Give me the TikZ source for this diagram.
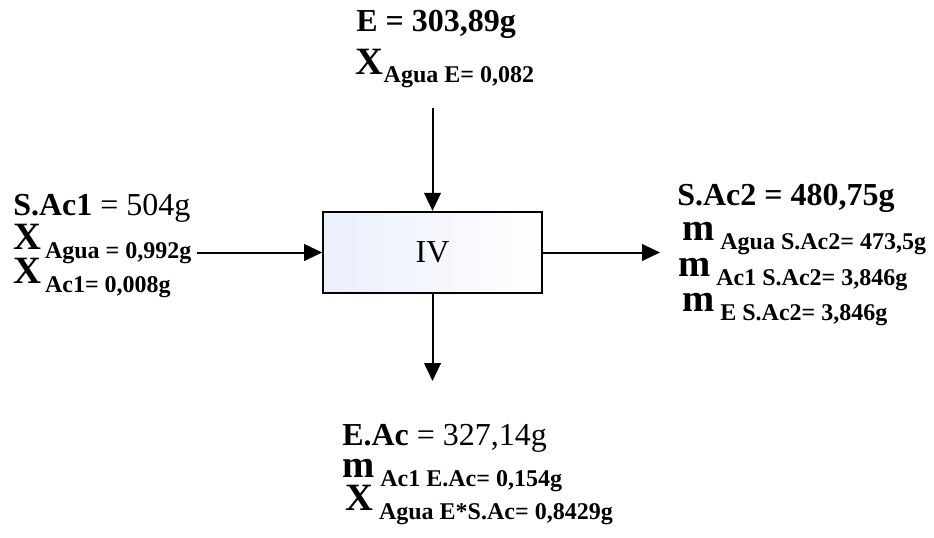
\documentclass[tikz,border=0pt]{standalone}
\usepackage{fontspec}
\setmainfont{Liberation Serif}
\usetikzlibrary{arrows.meta}

\definecolor{boxtint}{RGB}{234,239,251}

\begin{document}
\begin{tikzpicture}[x=0.75pt, y=-0.75pt,
    flow/.style={line width=1.5pt, -{Triangle[length=13.5pt, width=12.5pt]}},
    lbl/.style={anchor=base west, inner sep=0pt, font=\fontsize{24}{24}\selectfont},
    sym/.style={anchor=base west, inner sep=0pt, font=\fontsize{29}{29}\selectfont\bfseries},
    idx/.style={anchor=base west, inner sep=0pt, font=\fontsize{18}{18}\selectfont\bfseries}]
  \useasboundingbox (0,0) rectangle (934,538);

  % process unit
  \node[draw, line width=1.5pt, left color=boxtint, right color=white,
        minimum width=164pt, minimum height=61pt, inner sep=0pt,
        font=\fontsize{24}{24}\selectfont] (proc) at (432.5,252.5) {IV};

  % stream ends
  \coordinate (ein) at (432.5,108);
  \coordinate (sin) at (197,252.5);
  \coordinate (sout) at (660,252.5);
  \coordinate (eout) at (432.5,381);

  \draw[flow] (ein) -- (proc.north);
  \draw[flow] (sin) -- (proc.west);
  \draw[flow] (proc.east) -- (sout);
  \draw[flow] (proc.south) -- (eout);

  % feed E
  \node[lbl] (eTot) at (356,32) {\textbf{E = 303,89g}};
  \node[sym] (eAgua) at (355,75) {X};
  \node[idx] at ([yshift=-6pt]eAgua.base east) {Agua E= 0,082};

  % feed S.Ac1
  \node[lbl] (sTot) at (13,215) {\textbf{S.Ac1} = 504g};
  \node[sym] (sAgua) at (13,249) {X};
  \node[idx] at ([xshift=2.5pt, yshift=-7pt]sAgua.base east) {Agua = 0,992g};
  \node[sym] (sAc) at (13,283) {X};
  \node[idx] at ([xshift=2.5pt, yshift=-7pt]sAc.base east) {Ac1= 0,008g};

  % product S.Ac2
  \node[lbl] (pTot) at (677,205) {\textbf{S.Ac2 = 480,75g}};
  \node[sym] (pAgua) at (682,240) {m};
  \node[idx] at ([xshift=4pt, yshift=-7pt]pAgua.base east) {Agua S.Ac2= 473,5g};
  \node[sym] (pAc) at (678,276) {m};
  \node[idx] at ([xshift=4pt, yshift=-7pt]pAc.base east) {Ac1 S.Ac2= 3,846g};
  \node[sym] (pE) at (682,311) {m};
  \node[idx] at ([xshift=4pt, yshift=-7pt]pE.base east) {E S.Ac2= 3,846g};

  % extract E.Ac
  \node[lbl] (xTot) at (342,445) {\textbf{E.Ac} = 327,14g};
  \node[sym] (xAc) at (342,477) {m};
  \node[idx] at ([xshift=4pt, yshift=-7pt]xAc.base east) {Ac1 E.Ac= 0,154g};
  \node[sym] (xAgua) at (345,510) {X};
  \node[idx] at ([xshift=4pt, yshift=-7pt]xAgua.base east) {Agua E*S.Ac= 0,8429g};
\end{tikzpicture}
\end{document}
